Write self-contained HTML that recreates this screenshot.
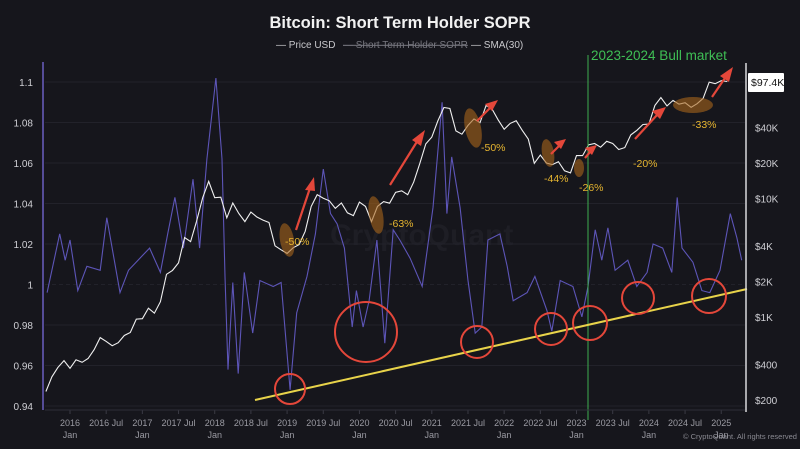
<!DOCTYPE html>
<html><head><meta charset="utf-8">
<style>
html,body{margin:0;padding:0;background:#16161c;}
svg{display:block;font-family:"Liberation Sans",sans-serif;}
</style></head>
<body>
<svg id="chart" width="800" height="449" viewBox="0 0 800 449" xmlns="http://www.w3.org/2000/svg">
<rect width="800" height="449" fill="#16161c"/>
<text x="400" y="28" text-anchor="middle" fill="#f2f2f2" font-size="16.5" font-weight="bold">Bitcoin: Short Term Holder SOPR</text>
<g font-size="10">
  <text x="276" y="48" fill="#c8c8cc">— Price USD</text>
  <text x="343" y="48" fill="#77777f" text-decoration="line-through">— Short Term Holder SOPR</text>
  <text x="471" y="48" fill="#c8c8cc">— SMA(30)</text>
</g>
<text x="330" y="245" fill="#1e1e25" font-size="30" font-weight="bold">CryptoQuant</text>
<g id="grid"></g>
<g id="series"></g>
<g id="annot"></g>
<g id="axes"></g>
</svg>
<script>
// ----- data -----
const leftTicks = [1.1, 1.08, 1.06, 1.04, 1.02, 1, 0.98, 0.96, 0.94];
const rightTicks = [200, 400, 1000, 2000, 4000, 10000, 20000, 40000];
const rightTickLabels = ["$200","$400","$1K","$2K","$4K","$10K","$20K","$40K"];
const xTickLabels = ["2016","2016 Jul","2017","2017 Jul","2018","2018 Jul","2019","2019 Jul","2020","2020 Jul","2021","2021 Jul","2022","2022 Jul","2023","2023 Jul","2024","2024 Jul","2025"];
// months since 2016 Jan
const priceStart = -4;
const priceValues = [236,314,377,430,
 370,437,416,448,531,673,624,575,609,700,742,963,
 970,1190,1080,1350,2300,2480,2870,4700,4340,6470,10200,14000,
 10200,10300,6900,9200,7500,6400,7700,7000,6600,6300,4000,3700,
 3450,3850,4100,5300,8600,10800,10100,9600,8300,9200,7600,7200,
 9350,8600,6400,8600,9450,9150,11300,11650,10800,13800,19700,29000,
 33100,45200,58800,57700,37300,35000,41500,47100,43800,61300,57000,46300,
 38500,43200,45500,37700,31800,19900,23300,20000,19400,20500,17200,16500,
 23100,23100,28500,29200,27200,30500,29200,26000,27000,34500,37700,42300,
 42600,61200,71300,60600,67500,62700,64600,59000,63300,70200,96400,93400,
 99000,97400];
const soprMonths = [-3.8,-1.7,-0.8,0,1.3,2.8,5,6.1,8.3,9.7,11.6,13.2,15,16.2,17.4,18.8,20.4,21.5,22.7,24.2,25.2,25.7,26.2,27,27.9,28.9,30.3,31.5,33.7,35,36.5,37.6,39.3,40.7,42,43.2,44.3,45.5,46.8,47.5,48.6,49.6,50.9,52.2,53.6,54.7,56.4,58.4,60.2,61.7,62.5,63.3,64.7,66,67.2,68.3,69.3,71.3,72.5,73.5,75.8,77.1,79.1,79.9,81.3,83.4,84.9,85.9,87.1,88.2,89.2,90.4,92.5,94,95.7,96.7,98.3,99.8,100.7,101.5,103.3,104.8,106.1,107.8,109.5,110.6,111.4];
const soprValues = [0.996,1.025,1.012,1.022,0.997,1.009,1.007,1.033,0.996,1.007,1.013,1.018,1.006,1.025,1.043,1.018,1.052,1.018,1.062,1.102,1.062,1.004,0.958,1.001,0.956,1.006,0.976,1.002,0.999,1.001,0.948,0.986,1.004,1.025,1.057,1.035,1.030,1.018,0.979,0.997,0.979,0.992,1.022,0.971,1.027,1.022,1.013,0.999,1.038,1.090,1.035,1.063,1.038,1.002,0.976,0.979,1.022,1.025,1.009,0.992,0.996,1.004,0.987,0.977,1.002,0.999,0.984,0.999,1.027,1.012,1.028,1.007,1.012,0.999,1.006,1.020,1.018,1.006,1.043,1.018,1.011,0.997,0.996,1.007,1.035,1.023,1.012];

// ----- scales -----
const xS = m => 70 + m * 6.03;
const yL = v => 82 + (1.1 - v) / 0.02 * 40.5;
const yR = p => 400 - 118.5 * Math.log10(p / 200);
const NS = "http://www.w3.org/2000/svg";
function mk(tag, attrs, parent) {
  const e = document.createElementNS(NS, tag);
  for (const k in attrs) e.setAttribute(k, attrs[k]);
  document.getElementById(parent).appendChild(e);
  return e;
}
// grid
leftTicks.forEach(v => {
  const g = mk("line", {x1: 45, x2: 745, y1: yL(v), y2: yL(v), stroke: "#22222a", "stroke-width": 1, "stroke-dasharray": v === 1 ? "4 3" : "none"}, "grid");
  
  
  const t = mk("text", {x: 33, y: yL(v) + 4, "text-anchor": "end", fill: "#cfcfd4", "font-size": 10}, "axes");
  t.textContent = String(v);
  
  
});
rightTicks.forEach((p, i) => {
  const t = mk("text", {x: 755, y: yR(p) + 4, fill: "#cfcfd4", "font-size": 10}, "axes");
  t.textContent = rightTickLabels[i];
  
  
});
xTickLabels.forEach((lab, i) => {
  const x = xS(i * 6);
  const tk = mk("line", {x1: x, x2: x, y1: 410, y2: 414, stroke: "#3a3a44"}, "axes");
  
  
  const t = mk("text", {x: x, y: 426, "text-anchor": "middle", fill: "#9a9aa2", "font-size": 9}, "axes");
  t.textContent = lab;
  
  
  if (lab.indexOf("Jul") < 0) {
    const t2 = mk("text", {x: x, y: 438, "text-anchor": "middle", fill: "#9a9aa2", "font-size": 9}, "axes");
    t2.textContent = "Jan";
    
    
  }
});
// axes lines
let a = mk("line", {x1: 43, x2: 43, y1: 62, y2: 410, stroke: "#6a5fc0", "stroke-width": 1.5}, "axes");


a = mk("line", {x1: 45, x2: 745, y1: 410, y2: 410, stroke: "#2e2e38", "stroke-width": 1}, "axes");


a = mk("line", {x1: 746, x2: 746, y1: 63, y2: 412, stroke: "#d8d8dc", "stroke-width": 1.5}, "axes");


// series
let sp = soprMonths.map((m, i) => xS(m).toFixed(1) + "," + yL(soprValues[i]).toFixed(1)).join(" ");
const sl = mk("polyline", {points: sp, fill: "none", stroke: "#5d55b8", "stroke-width": 1.1}, "series");


let pp = priceValues.map((p, i) => xS(priceStart + i).toFixed(1) + "," + yR(p).toFixed(1)).join(" ");
const pl = mk("polyline", {points: pp, fill: "none", stroke: "#f0f0f0", "stroke-width": 1.1}, "series");


</script>
<script>
// annotations
const an = document.getElementById("annot");
an.innerHTML = `
<line x1="588" y1="55" x2="588" y2="420" stroke="#3fae4f" stroke-width="1"/>
<text x="591" y="60" fill="#3fbf55" font-size="13.5">2023-2024 Bull market</text>
<line x1="255" y1="400" x2="747" y2="289" stroke="#e8d34a" stroke-width="2"/>
<g fill="#a8661a" fill-opacity="0.6">
<ellipse cx="287" cy="240" rx="7" ry="17" transform="rotate(-10 287 240)"/>
<ellipse cx="376" cy="215" rx="7" ry="19" transform="rotate(-10 376 215)"/>
<ellipse cx="473" cy="128" rx="8" ry="20" transform="rotate(-12 473 128)"/>
<ellipse cx="548" cy="153" rx="6" ry="14" transform="rotate(-10 548 153)"/>
<ellipse cx="579" cy="168" rx="5" ry="9"/>
<ellipse cx="693" cy="105" rx="20" ry="8"/>
</g>
<g fill="#e6b530" font-size="10.5">
<text x="285" y="245">-50%</text><text x="389" y="227">-63%</text><text x="481" y="151">-50%</text>
<text x="544" y="182">-44%</text><text x="579" y="191">-26%</text><text x="633" y="167">-20%</text><text x="692" y="128">-33%</text>
</g>
<g stroke="#e4473a" stroke-width="2.2" fill="#e4473a">
<line x1="296" y1="230" x2="310" y2="188"/><polygon points="314,177 305,190 315,191" stroke="none"/>
<line x1="390" y1="185" x2="418" y2="140"/><polygon points="425,130 412,140 421,146" stroke="none"/>
<line x1="477" y1="121" x2="490" y2="108"/><polygon points="498,100 485,104 492,111" stroke="none"/>
<line x1="551" y1="154" x2="559" y2="146"/><polygon points="566,139 554,142 561,149" stroke="none"/>
<line x1="585" y1="158" x2="590" y2="152"/><polygon points="597,145 585,148 592,155" stroke="none"/>
<line x1="635" y1="139" x2="657" y2="115"/><polygon points="666,107 652,111 660,119" stroke="none"/>
<line x1="712" y1="97" x2="725" y2="78"/><polygon points="733,67 720,76 729,82" stroke="none"/>
</g>
<g stroke="#e4473a" stroke-width="2" fill="none">
<circle cx="290" cy="389" r="15"/><ellipse cx="366" cy="332" rx="31" ry="30"/><circle cx="477" cy="342" r="16"/>
<circle cx="551" cy="329" r="16"/><circle cx="590" cy="323" r="17"/><circle cx="638" cy="298" r="16"/><circle cx="709" cy="296" r="17"/>
</g>
<rect x="748" y="73" width="36" height="19" fill="#ffffff" rx="1"/>
<text x="751" y="86" fill="#111" font-size="10.5">$97.4K</text>
<text x="683" y="439" fill="#8a8a92" font-size="7.5">© CryptoQuant. All rights reserved</text>
`;
</script>
</body></html>
